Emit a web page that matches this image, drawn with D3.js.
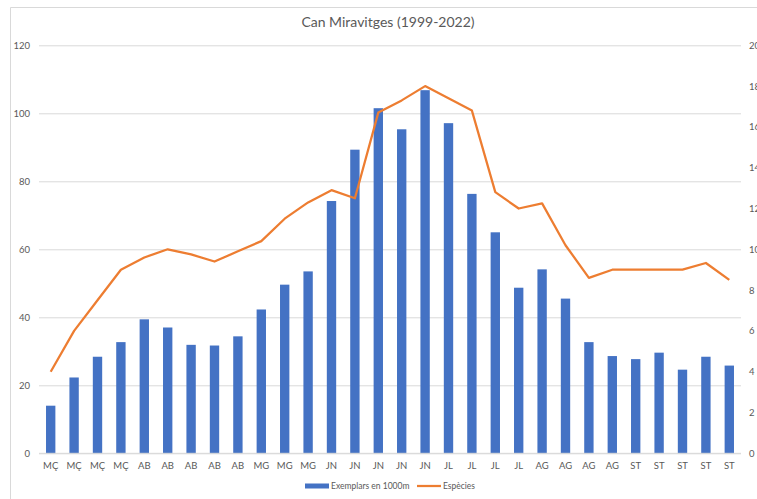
<!DOCTYPE html>
<html>
<head>
<meta charset="utf-8">
<script src="https://cdn.jsdelivr.net/npm/d3@7"></script>
<style>
  body { margin: 0; background: #fff; }
  text { font-family: Lato, "Open Sans", sans-serif; fill: #595959; }
</style>
</head>
<body>
<svg id="chart" width="757" height="499"></svg>
<script>
// month labels for each sample
var months = ["MÇ","MÇ","MÇ","MÇ","AB","AB","AB","AB","AB","MG","MG","MG",
  "JN","JN","JN","JN","JN","JL","JL","JL","JL","AG","AG","AG","AG",
  "ST","ST","ST","ST","ST"];
// bars: exemplars per 1000 m (left axis)
var exemplars = [14, 22.3, 28.4, 32.7, 39.4, 37, 31.9, 31.7, 34.4, 42.3, 49.6, 53.5,
  74.2, 89.3, 101.5, 95.3, 106.8, 97.1, 76.3, 65, 48.7, 54.1, 45.5, 32.7,
  28.6, 27.7, 29.6, 24.6, 28.4, 25.8];
// line: species (right axis)
var especies = [4, 6, 7.5, 9, 9.6, 10, 9.75, 9.4, 9.9, 10.4, 11.5, 12.3,
  12.9, 12.5, 16.7, 17.3, 18, 17.4, 16.8, 12.8, 12, 12.25, 10.2, 8.6,
  9, 9, 9, 9, 9.33, 8.5];
var leftTicks = [0, 20, 40, 60, 80, 100, 120];
var rightTicks = [0, 2, 4, 6, 8, 10, 12, 14, 16, 18, 20];

var svg = d3.select("#chart");
var idx = d3.range(months.length);

// chart frame (only left and top edges visible in the crop)
svg.append("path")
  .attr("d", "M10.5,499 L10.5,7.5 L757,7.5")
  .attr("fill", "none").attr("stroke", "#d9d9d9");

var x = d3.scaleBand().domain(idx).range([39, 741]).paddingInner(0.6).paddingOuter(0.3);
var yL = d3.scaleLinear().domain([0, 120]).range([453.3, 45.3]);
var yR = d3.scaleLinear().domain([0, 20]).range([453.3, 45.3]);

// gridlines + left axis
var gl = svg.append("g").attr("class", "y-axis")
  .attr("transform", "translate(39,0)")
  .call(d3.axisLeft(yL).tickValues(leftTicks).tickSize(-702).tickPadding(9));
gl.select(".domain").remove();
gl.selectAll("line").attr("stroke", "#d9d9d9");
gl.selectAll("text").attr("font-size", 9.5).style("fill", "#595959");

// right axis labels
var gr = svg.append("g").attr("class", "y-axis-r")
  .attr("transform", "translate(741,0)")
  .call(d3.axisRight(yR).tickValues(rightTicks).tickSize(0).tickPadding(8));
gr.select(".domain").remove();
gr.selectAll("text").attr("font-size", 9.5).style("fill", "#595959");

// bars
svg.append("g").selectAll("rect")
  .data(idx)
  .join("rect")
  .attr("x", i => x(i))
  .attr("width", x.bandwidth())
  .attr("y", i => yL(exemplars[i]))
  .attr("height", i => yL(0) - yL(exemplars[i]))
  .attr("fill", "#4472c4");

// bottom axis line
svg.append("line")
  .attr("x1", 39).attr("x2", 741)
  .attr("y1", yL(0)).attr("y2", yL(0))
  .attr("stroke", "#d9d9d9");

// x labels
var gx = svg.append("g").attr("class", "x-axis")
  .attr("transform", "translate(0," + yL(0) + ")")
  .call(d3.axisBottom(x).tickSize(0).tickPadding(9).tickFormat(i => months[i]));
gx.select(".domain").remove();
gx.selectAll("text").attr("font-size", 9.5).style("fill", "#595959");

// species line
var line = d3.line()
  .x(i => x(i) + x.bandwidth() / 2)
  .y(i => yR(especies[i]));
svg.append("path")
  .datum(idx)
  .attr("d", line)
  .attr("fill", "none")
  .attr("stroke", "#ed7d31")
  .attr("stroke-width", 2.25)
  .attr("stroke-linejoin", "round");

// title
svg.append("text")
  .attr("x", 388).attr("y", 27)
  .attr("text-anchor", "middle")
  .attr("font-size", 14)
  .text("Can Miravitges (1999-2022)");

// legend
var lg = svg.append("g").attr("transform", "translate(0,486)");
lg.append("rect").attr("x", 305).attr("y", -2.5).attr("width", 24).attr("height", 5).attr("fill", "#4472c4");
lg.append("text").attr("x", 331).attr("y", 3).attr("font-size", 8.5).text("Exemplars en 1000m");
lg.append("line").attr("x1", 417).attr("x2", 441).attr("y1", 0).attr("y2", 0)
  .attr("stroke", "#ed7d31").attr("stroke-width", 2.25);
lg.append("text").attr("x", 443).attr("y", 3).attr("font-size", 8.5).text("Espècies");
</script>
</body>
</html>
